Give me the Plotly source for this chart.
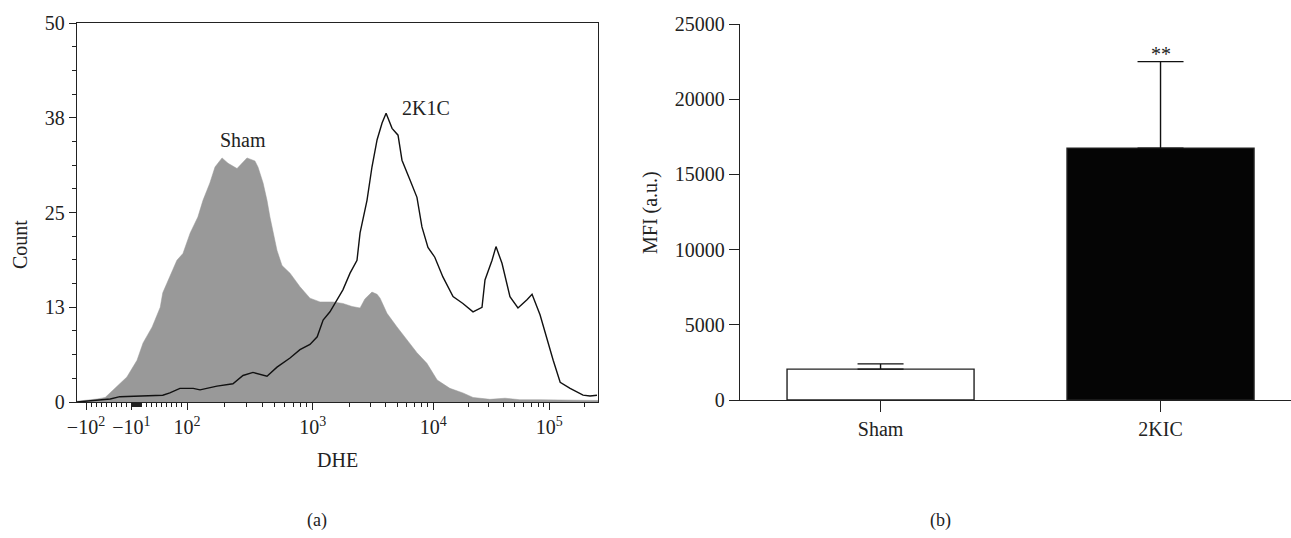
import numpy as np
import plotly.graph_objects as go

# ---------------- data ----------------
# Panel (a): flow-cytometry DHE histogram (DHE intensity, cell count)
SHAM_DHE = [-118, -100, -78, -62, -52, -37, -19, 1, 13, 31,
            47, 52, 66, 80, 92, 106, 122, 134, 152, 167,
            190, 212, 250, 300, 347, 367, 403, 433, 457, 483,
            520, 570, 660, 792, 951, 1150, 1470, 1780, 2120, 2470,
            2710, 3100, 3420, 3620, 4130, 5000, 6050, 7320, 8850, 10800,
            13900, 18000, 22000, 30800, 41500, 55800, 83200, 112000, 166000, 262144]
SHAM_COUNT = [0.1, 0.2, 0.4, 0.6, 1.2, 2.2, 3.3, 5.5, 7.8, 9.9,
              12.5, 14.4, 16.5, 18.7, 19.6, 22.3, 24.4, 26.6, 28.9, 31.0,
              32.2, 31.5, 30.8, 32.2, 31.8, 31.0, 28.9, 26.6, 24.4, 22.3,
              20.0, 18.0, 17.0, 15.2, 13.7, 13.2, 13.2, 13.0, 12.6, 12.4,
              13.6, 14.5, 14.2, 13.7, 11.7, 9.9, 8.2, 6.5, 5.1, 2.9,
              1.8, 1.2, 0.6, 0.35, 0.5, 0.3, 0.3, 0.25, 0.2, 0.2]

K2C_DHE = [-118, -78, -52, -33, 7, 52, 66, 86, 112, 127,
           173, 232, 279, 335, 433, 520, 660, 792, 951, 1090,
           1220, 1390, 1780, 2040, 2330, 2470, 2820, 3100, 3420, 3760,
           4060, 4550, 5100, 5500, 6410, 7320, 8050, 9030, 10300, 12100,
           14800, 18000, 22000, 26300, 27900, 32100, 34700, 39100, 45800, 53700,
           64200, 71000, 83200, 95500, 108000, 124000, 151000, 195000, 224000, 257000]
K2C_COUNT = [0, 0.2, 0.4, 0.7, 0.8, 0.9, 1.2, 1.8, 1.8, 1.6,
             2.1, 2.4, 3.5, 3.9, 3.4, 4.6, 5.8, 6.9, 7.6, 8.6,
             10.8, 11.9, 14.8, 17.0, 18.7, 22.3, 26.6, 31.0, 34.6, 36.8,
             38.1, 36.1, 35.2, 31.9, 29.3, 27.0, 23.1, 20.4, 19.1, 16.5,
             13.9, 13.0, 11.9, 12.5, 16.1, 18.7, 20.5, 18.3, 13.9, 12.4,
             13.5, 14.2, 11.5, 8.2, 5.5, 2.6, 1.8, 0.9, 0.8, 0.9]

COUNT_TICKS = [0, 12.5, 25, 37.5, 50]
COUNT_TICK_TEXT = ["0", "13", "25", "38", "50"]
DHE_TICKS = [-100, -10, 100, 1000, 10000, 100000]
DHE_TICK_TEXT = ["\u221210<sup>2</sup>", "\u221210<sup>1</sup>", "10<sup>2</sup>",
                 "10<sup>3</sup>", "10<sup>4</sup>", "10<sup>5</sup>"]

# Panel (b): mean fluorescence intensity
GROUPS = ["Sham", "2KIC"]
MFI_MEAN = [2050, 16750]
MFI_ERR = [350, 5750]

# ---------------- biexponential-like display scale (linear near 0, log above) ----------------
SCALE_VALUES = [-100, 100, 1e3, 1e4, 1e5, 262144]
SCALE_POS = [9.0, 110.0, 235.7, 356.3, 472.3, 521.0]


def T(v):
    v = np.asarray(v, dtype=float)
    slope = (SCALE_POS[1] - SCALE_POS[0]) / (SCALE_VALUES[1] - SCALE_VALUES[0])
    lin = SCALE_POS[0] + (v - SCALE_VALUES[0]) * slope
    lg = np.interp(np.log10(np.clip(v, SCALE_VALUES[1], None)),
                   np.log10(SCALE_VALUES[1:]), SCALE_POS[1:])
    return np.where(v <= SCALE_VALUES[1], lin, lg)


minor_vals = (list(range(-90, -10, 10)) + list(range(-9, 10)) + list(range(20, 100, 10))
              + [m * 10 ** k for k in (2, 3, 4) for m in range(2, 10)] + [200000])

FONT = "Liberation Serif"
INK = "#222222"
W, H = 1291, 538
FS = 20

fig = go.Figure()
fig.add_trace(go.Scatter(x=T(SHAM_DHE), y=SHAM_COUNT, mode="lines", fill="tozeroy",
                         fillcolor="#999999", line=dict(color="#999999", width=0.5),
                         xaxis="x", yaxis="y", showlegend=False, name="Sham"))
fig.add_trace(go.Scatter(x=T(K2C_DHE), y=K2C_COUNT, mode="lines",
                         line=dict(color="#111111", width=1.4),
                         xaxis="x", yaxis="y", showlegend=False, name="2K1C"))
fig.add_trace(go.Bar(x=GROUPS, y=MFI_MEAN, xaxis="x2", yaxis="y2", width=0.668,
                     marker=dict(color=["#ffffff", "#050505"], line=dict(color=INK, width=1.4)),
                     error_y=dict(type="data", symmetric=False, array=MFI_ERR, arrayminus=[0, 0],
                                  color="#111111", thickness=1.4, width=23),
                     showlegend=False))

tickfont = dict(family=FONT, size=FS, color=INK)

fig.update_layout(
    template="none",
    width=W, height=H,
    margin=dict(l=0, r=0, t=0, b=0, pad=0),
    paper_bgcolor="white", plot_bgcolor="white",
    font=dict(family=FONT, size=FS, color=INK),
    xaxis=dict(domain=[77 / W, 598 / W], range=[0, 521], anchor="y", automargin=False,
               showline=True, mirror=True, linecolor=INK, linewidth=1.3,
               showgrid=False, zeroline=False,
               tickmode="array", tickvals=T(DHE_TICKS), ticktext=DHE_TICK_TEXT,
               ticks="outside", ticklen=7, tickwidth=1.2, tickcolor=INK, tickfont=tickfont,
               minor=dict(tickmode="array", tickvals=T(minor_vals), ticks="outside",
                          ticklen=4, tickwidth=1, tickcolor=INK, showgrid=False)),
    yaxis=dict(domain=[(H - 402) / H, (H - 23) / H], range=[0, 50], anchor="x", automargin=False,
               showline=True, mirror=True, linecolor=INK, linewidth=1.3,
               showgrid=False, zeroline=False,
               tickmode="array", tickvals=COUNT_TICKS, ticktext=COUNT_TICK_TEXT,
               ticks="outside", ticklen=7, tickwidth=1.2, tickcolor=INK, tickfont=tickfont,
               minor=dict(tick0=0, dtick=3.125, ticks="outside", ticklen=4, tickwidth=1,
                          tickcolor=INK, showgrid=False)),
    xaxis2=dict(domain=[740 / W, 1.0], range=[-0.502, 1.466], anchor="y2", type="category",
                automargin=False,
                showline=True, linecolor=INK, linewidth=1.3, showgrid=False, zeroline=False,
                ticks="outside", ticklen=11, tickwidth=1.2, tickcolor=INK, tickfont=tickfont),
    yaxis2=dict(domain=[(H - 400) / H, (H - 24) / H], range=[0, 25000], anchor="x2",
                automargin=False,
                showline=True, linecolor=INK, linewidth=1.3, showgrid=False, zeroline=False,
                tickmode="linear", tick0=0, dtick=5000, tickformat="d",
                ticks="outside", ticklen=10, tickwidth=1.2, tickcolor=INK, tickfont=tickfont),
)

ann = dict(showarrow=False, xanchor="center", yanchor="middle",
           font=dict(family=FONT, size=FS, color=INK))
fig.add_annotation(x=float(T(280)), y=34.6, xref="x", yref="y", text="Sham", **ann)
fig.add_annotation(x=float(T(8690)), y=38.8, xref="x", yref="y", text="2K1C", **ann)
fig.add_annotation(x="2KIC", y=MFI_MEAN[1] + MFI_ERR[1], xref="x2", yref="y2", text="**",
                   xanchor="center", yanchor="bottom", yshift=-5, showarrow=False,
                   font=dict(family=FONT, size=FS, color=INK))
fig.add_annotation(x=20 / W, y=(H - 245) / H, xref="paper", yref="paper", text="Count",
                   textangle=-90, **ann)
fig.add_annotation(x=337 / W, y=(H - 460) / H, xref="paper", yref="paper", text="DHE", **ann)
fig.add_annotation(x=650 / W, y=(H - 213) / H, xref="paper", yref="paper", text="MFI (a.u.)",
                   textangle=-90, **ann)
sub = dict(showarrow=False, xanchor="center", yanchor="middle",
           font=dict(family=FONT, size=18, color=INK))
fig.add_annotation(x=317 / W, y=(H - 520) / H, xref="paper", yref="paper", text="(a)", **sub)
fig.add_annotation(x=940 / W, y=(H - 520) / H, xref="paper", yref="paper", text="(b)", **sub)

fig.write_html("out.html", config={"displayModeBar": False},
               post_script="document.body.style.margin='0';document.body.style.overflow='hidden';")
